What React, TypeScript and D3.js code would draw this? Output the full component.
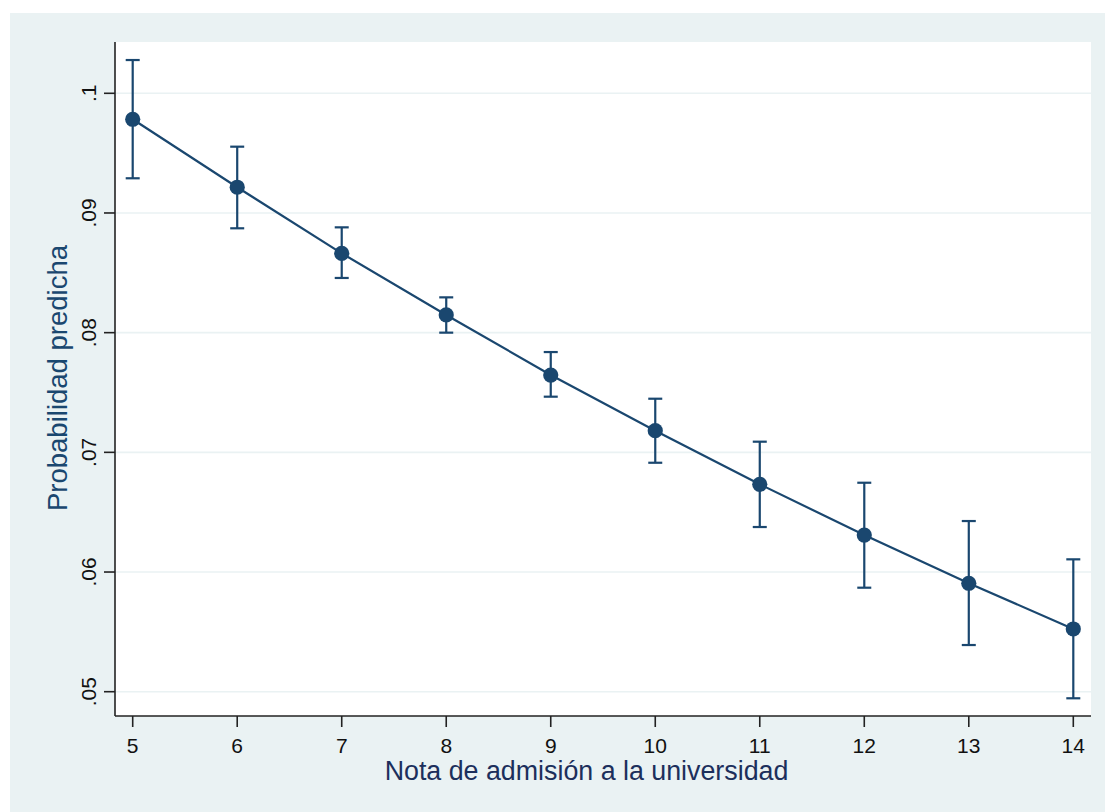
import React from "react";
import * as d3 from "d3";

const notas = [5, 6, 7, 8, 9, 10, 11, 12, 13, 14];
const prob = [0.09783, 0.09215, 0.08663, 0.08148, 0.07646, 0.07181, 0.06733, 0.06309, 0.05906, 0.05524];
const upper = [0.10278, 0.09554, 0.0888, 0.08295, 0.07838, 0.07448, 0.07089, 0.06746, 0.06426, 0.06106];
const lower = [0.0929, 0.08872, 0.08457, 0.08, 0.07465, 0.06913, 0.06376, 0.05869, 0.0539, 0.04945];
const yTicks = [0.05, 0.06, 0.07, 0.08, 0.09, 0.1];
const yTickLabels = [".05", ".06", ".07", ".08", ".09", ".1"];
const xTitle = "Nota de admisión a la universidad";
const yTitle = "Probabilidad predicha";

const W = 1105;
const H = 812;
const plot = { left: 115, top: 42, right: 1091, bottom: 716 };
const navy = "#1a476f";
const bg = "#eaf2f3";
const font = "'Liberation Sans', Arial, sans-serif";

export default function App() {
  const x = d3.scaleLinear().domain([5, 14]).range([132.7, 1073.3]);
  const y = d3.scaleLinear().domain([0.05, 0.1]).range([691.7, 93.3]);
  const line = d3
    .line<number>()
    .x((_, i) => x(notas[i]))
    .y((d) => y(d));
  const cap = 7;

  return (
    <div style={{ position: "absolute", left: 0, top: 0 }}>
      <svg width={W} height={H} style={{ display: "block" }}>
        <rect x={0} y={0} width={W} height={H} fill="#ffffff" />
        <rect x={10} y={13} width={W - 10} height={H - 13} fill={bg} />
        <rect
          x={plot.left}
          y={plot.top}
          width={plot.right - plot.left}
          height={plot.bottom - plot.top}
          fill="#ffffff"
        />
        {yTicks.map((t) => (
          <line
            key={"g" + t}
            x1={plot.left}
            x2={plot.right}
            y1={y(t)}
            y2={y(t)}
            stroke={bg}
            strokeWidth={1.6}
          />
        ))}
        {/* axes */}
        <line x1={plot.left} x2={plot.left} y1={plot.top} y2={plot.bottom} stroke="#222" strokeWidth={1.6} />
        <line x1={plot.left} x2={plot.right} y1={plot.bottom} y2={plot.bottom} stroke="#222" strokeWidth={1.6} />
        {yTicks.map((t, i) => (
          <g key={"yt" + t}>
            <line x1={plot.left - 11} x2={plot.left} y1={y(t)} y2={y(t)} stroke="#222" strokeWidth={1.6} />
            <text
              transform={`translate(96,${y(t)}) rotate(-90)`}
              textAnchor="middle"
              fontFamily={font}
              fontSize={21}
              fill="#111"
            >
              {yTickLabels[i]}
            </text>
          </g>
        ))}
        {notas.map((n) => (
          <g key={"xt" + n}>
            <line x1={x(n)} x2={x(n)} y1={plot.bottom} y2={plot.bottom + 11} stroke="#222" strokeWidth={1.6} />
            <text x={x(n)} y={753} textAnchor="middle" fontFamily={font} fontSize={21} fill="#111">
              {n}
            </text>
          </g>
        ))}
        <text
          x={586.5}
          y={780}
          textAnchor="middle"
          fontFamily={font}
          fontSize={26.8}
          fill="#1c2f5c"
        >
          {xTitle}
        </text>
        <text
          transform={`translate(67,378) rotate(-90)`}
          textAnchor="middle"
          fontFamily={font}
          fontSize={27.5}
          fill={navy}
        >
          {yTitle}
        </text>
        {/* error bars */}
        {notas.map((n, i) => (
          <g key={"eb" + n} stroke={navy} strokeWidth={2.2}>
            <line x1={x(n)} x2={x(n)} y1={y(upper[i])} y2={y(lower[i])} />
            <line x1={x(n) - cap} x2={x(n) + cap} y1={y(upper[i])} y2={y(upper[i])} />
            <line x1={x(n) - cap} x2={x(n) + cap} y1={y(lower[i])} y2={y(lower[i])} />
          </g>
        ))}
        <path d={line(prob) || ""} fill="none" stroke={navy} strokeWidth={2.2} />
        {notas.map((n, i) => (
          <circle key={"pt" + n} cx={x(n)} cy={y(prob[i])} r={7.6} fill={navy} />
        ))}
      </svg>
    </div>
  );
}
